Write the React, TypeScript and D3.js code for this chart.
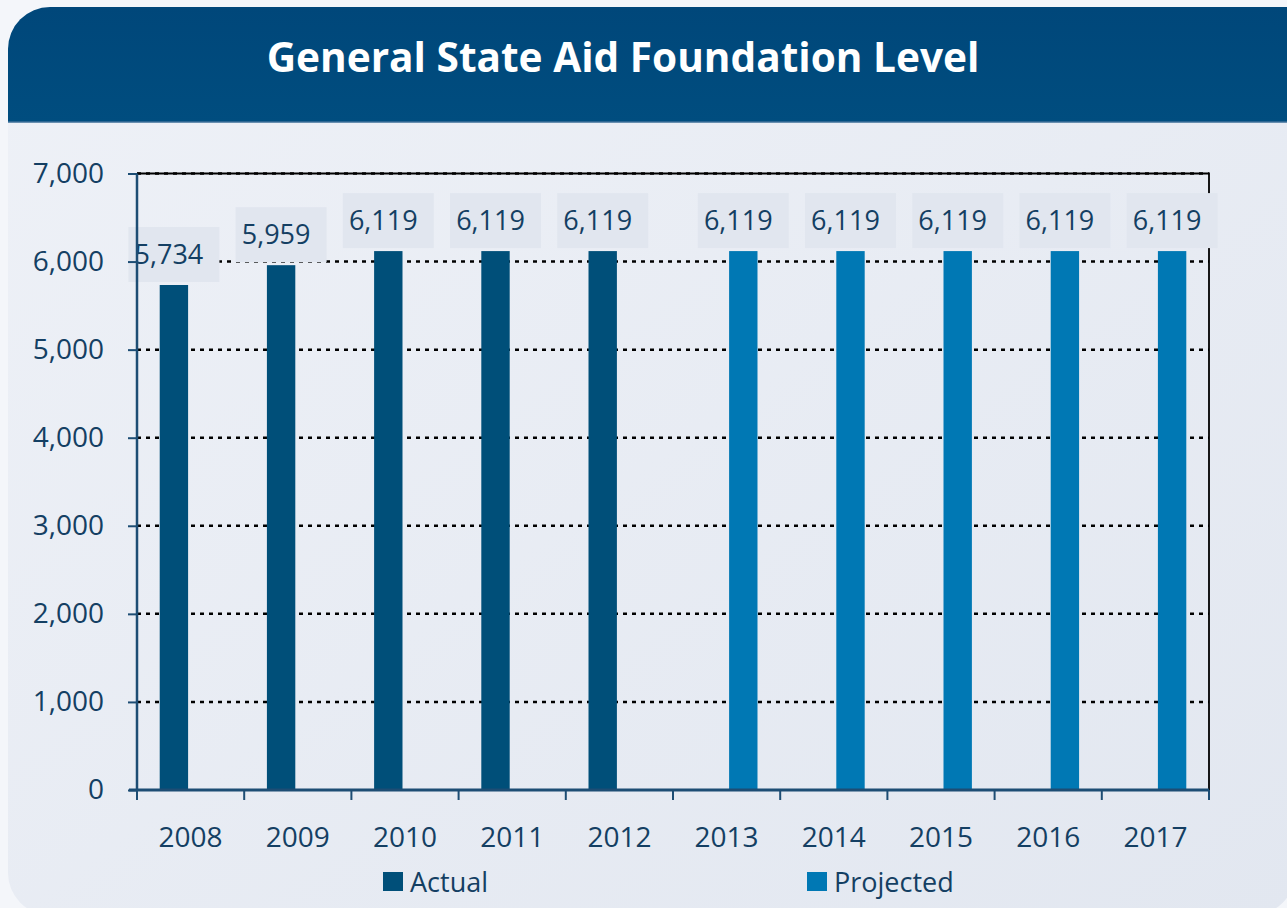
import React, { useEffect, useRef } from 'react'
import { select, scaleBand, scaleLinear, axisBottom, axisLeft, format, range } from 'd3'

const years = ['2008', '2009', '2010', '2011', '2012', '2013', '2014', '2015', '2016', '2017']
const seriesKeys = ['Actual', 'Projected']
const actual = [5734, 5959, 6119, 6119, 6119, null, null, null, null, null]
const projected = [null, null, null, null, null, 6119, 6119, 6119, 6119, 6119]
const yTicks = [0, 1000, 2000, 3000, 4000, 5000, 6000, 7000]

const colors = { Actual: '#004f79', Projected: '#0078b4' }
const textColor = '#143f63'
const font = '"Open Sans", sans-serif'

const W = 1287
const H = 908
const margin = { left: 137, right: 78, top: 173.5, bottom: 118 }

const App = () => {
    const svgRef = useRef()

    useEffect(() => {
        const svg = select(svgRef.current)
        const plotW = W - margin.left - margin.right
        const plotBottom = H - margin.bottom

        const x0 = scaleBand().domain(years).range([margin.left, margin.left + plotW]).padding(0)
        const x1 = scaleBand().domain(seriesKeys).range([0, x0.bandwidth()]).paddingInner(0.15).paddingOuter(0.68)
        const y = scaleLinear().domain([0, 7000]).range([plotBottom, margin.top])

        const rows = years.map((year, i) => ({ year, Actual: actual[i], Projected: projected[i] }))

        // gridlines
        svg.select('.grid')
            .selectAll('line')
            .data(yTicks.filter(t => t > 0))
            .join('line')
            .attr('x1', margin.left)
            .attr('x2', margin.left + plotW)
            .attr('y1', d => y(d))
            .attr('y2', d => y(d))
            .attr('stroke', '#000')
            .attr('stroke-width', 2.5)
            .attr('stroke-dasharray', '4 5')

        // plot border (top + right)
        svg.select('.border')
            .selectAll('path')
            .data([0])
            .join('path')
            .attr('d', `M${margin.left},${y(7000)}H${margin.left + plotW}V${plotBottom}`)
            .attr('fill', 'none')
            .attr('stroke', '#000')
            .attr('stroke-width', 1.8)

        const flat = []
        rows.forEach(r => {
            seriesKeys.forEach(k => {
                if (r[k] != null) flat.push({ year: r.year, key: k, value: r[k] })
            })
        })

        svg.select('.bars')
            .selectAll('rect')
            .data(flat)
            .join('rect')
            .attr('x', d => x0(d.year) + x1(d.key))
            .attr('width', x1.bandwidth())
            .attr('y', d => y(d.value))
            .attr('height', d => y(0) - y(d.value))
            .attr('fill', d => colors[d.key])

        const labels = svg.select('.labels')
            .selectAll('g')
            .data(flat)
            .join('g')
            .attr('transform', d => `translate(${x0(d.year) + x1(d.key) + x1.bandwidth() / 2}, ${y(d.value) - 3})`)
        labels.selectAll('rect')
            .data(d => [d])
            .join('rect')
            .attr('x', -45.5)
            .attr('y', -55)
            .attr('width', 91)
            .attr('height', 55)
            .attr('fill', '#e1e6ef')
        labels.selectAll('text')
            .data(d => [d])
            .join('text')
            .attr('x', -5)
            .attr('y', -18)
            .attr('text-anchor', 'middle')
            .attr('font-family', font)
            .attr('font-size', 27)
            .attr('fill', textColor)
            .text(d => format(',')(d.value))

        const xAxis = axisBottom(x0).tickSize(0).tickPadding(37)
        const gx = svg.select('.x-axis')
            .attr('transform', `translate(0, ${plotBottom})`)
            .call(xAxis)
        gx.select('.domain').attr('stroke', '#1d4d74').attr('stroke-width', 3)
            .attr('d', `M${margin.left - 8},0H${margin.left + plotW}`)
        gx.selectAll('.tick text').attr('font-family', font).attr('font-size', 28).attr('fill', textColor)
        gx.selectAll('.band-tick')
            .data(range(years.length + 1))
            .join('line')
            .attr('class', 'band-tick')
            .attr('x1', i => margin.left + i * x0.step())
            .attr('x2', i => margin.left + i * x0.step())
            .attr('y1', 0)
            .attr('y2', 10)
            .attr('stroke', '#1d4d74')
            .attr('stroke-width', 2)

        const yAxis = axisLeft(y).tickValues(yTicks).tickSize(9).tickPadding(24).tickFormat(format(','))
        const gy = svg.select('.y-axis')
            .attr('transform', `translate(${margin.left}, 0)`)
            .call(yAxis)
        gy.select('.domain').attr('stroke', '#1d4d74').attr('stroke-width', 2.5)
            .attr('d', `M0,${y(7000)}V${plotBottom}`)
        gy.selectAll('.tick line').attr('stroke', '#1d4d74').attr('stroke-width', 2)
        gy.selectAll('.tick text').attr('font-family', font).attr('font-size', 28).attr('fill', textColor)
    }, [])

    const legendItems = [
        { key: 'Actual', x: 383 },
        { key: 'Projected', x: 807 },
    ]

    return (
        <svg ref={svgRef} width={W} height={H} style={{ position: 'absolute', left: 0, top: 0 }}>
            <defs>
                <linearGradient id="bg" x1="0" y1="0" x2="1" y2="1">
                    <stop offset="0" stopColor="#eef1f7" />
                    <stop offset="1" stopColor="#e2e7f0" />
                </linearGradient>
                <linearGradient id="hdr" x1="0" y1="0" x2="0" y2="1">
                    <stop offset="0" stopColor="#00477a" />
                    <stop offset="1" stopColor="#004d7f" />
                </linearGradient>
            </defs>
            <rect x={0} y={0} width={W} height={H} fill="#f4f6fa" />
            <rect x={8} y={7} width={W} height={H} rx={42} fill="url(#bg)" />
            <path d={`M8,122 V49 A42,42 0 0 1 50,7 H${W} V122 Z`} fill="url(#hdr)" />
            <line x1={8} x2={W} y1={122} y2={122} stroke="#3d6f98" strokeWidth={1.5} />
            <text x={623} y={72} textAnchor="middle" fontFamily={font} fontWeight="bold" fontSize={40.6} fill="#fff">
                General State Aid Foundation Level
            </text>
            <g className="grid" />
            <g className="border" />
            <g className="bars" />
            <g className="labels" />
            <g className="x-axis" />
            <g className="y-axis" />
            <g className="legend">
                {legendItems.map(d => (
                    <g key={d.key}>
                        <rect x={d.x} y={872} width={20} height={19} fill={colors[d.key]} />
                        <text x={d.x + 27} y={892} fontFamily={font} fontSize={27} fill={textColor}>{d.key}</text>
                    </g>
                ))}
            </g>
        </svg>
    )
}

export default App
